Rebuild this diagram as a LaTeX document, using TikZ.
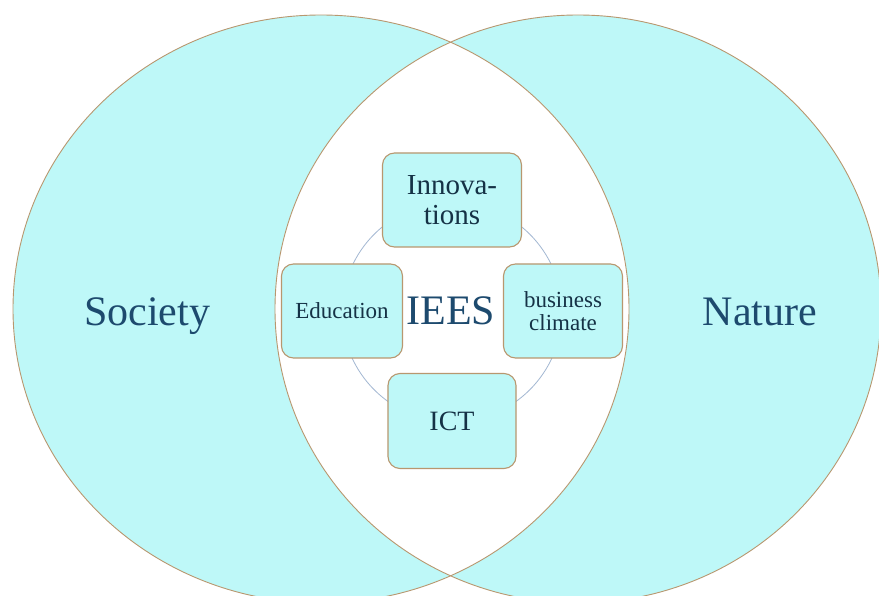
\documentclass[tikz,border=0pt]{standalone}
\usepackage{fontspec}
\setmainfont{Liberation Serif}
\definecolor{venn}{HTML}{BEF8F8}
\definecolor{rim}{HTML}{B8976F}
\definecolor{ring}{HTML}{A3B8D2}
\definecolor{biglab}{HTML}{1D4A6E}
\definecolor{boxtxt}{HTML}{153246}
\tikzset{
  cardbox/.style={draw=rim, line width=1.1pt, fill=venn, rounded corners=12pt,
    inner sep=0pt, align=center, text=boxtxt},
  biglabel/.style={text=biglab, font=\fontsize{42}{46}\selectfont, inner sep=0pt, anchor=base},
}
\begin{document}
\begin{tikzpicture}[x=1pt,y=-1pt]
\useasboundingbox (0,0) rectangle (879,596);
% circles
\fill[venn] (321,309) ellipse [x radius=308pt, y radius=294pt];
\fill[venn] (578,309) ellipse [x radius=303pt, y radius=294pt];
\begin{scope}
  \clip (321,309) ellipse [x radius=308pt, y radius=294pt];
  \fill[white] (578,309) ellipse [x radius=303pt, y radius=294pt];
\end{scope}
\draw[rim, line width=0.9pt] (321,309) ellipse [x radius=308pt, y radius=294pt];
\draw[rim, line width=0.9pt] (578,309) ellipse [x radius=303pt, y radius=294pt];
% inner ring
\node (ringc) [draw=ring, line width=0.8pt, circle, minimum size=220pt, inner sep=0pt] at (452,312) {};
% labels
\node (society) [biglabel] at (147,326) {Society};
\node (nature) [biglabel] at (760,326) {Nature};
\node (iees) [biglabel] at (451,325) {IEES};
% boxes
\node (innov) [cardbox, minimum width=139pt, minimum height=94pt,
  font=\fontsize{29}{30}\selectfont] at (452,200) {Innova-\\tions};
\node (edu) [cardbox, minimum width=121pt, minimum height=94pt,
  font=\fontsize{23}{24}\selectfont] at (342,311) {Education};
\node (bus) [cardbox, minimum width=119pt, minimum height=94pt,
  font=\fontsize{23}{23}\selectfont] at (563,311) {business\\climate};
\node (ict) [cardbox, minimum width=128pt, minimum height=95pt,
  font=\fontsize{28}{30}\selectfont] at (452,421) {ICT};
\end{tikzpicture}
\end{document}
